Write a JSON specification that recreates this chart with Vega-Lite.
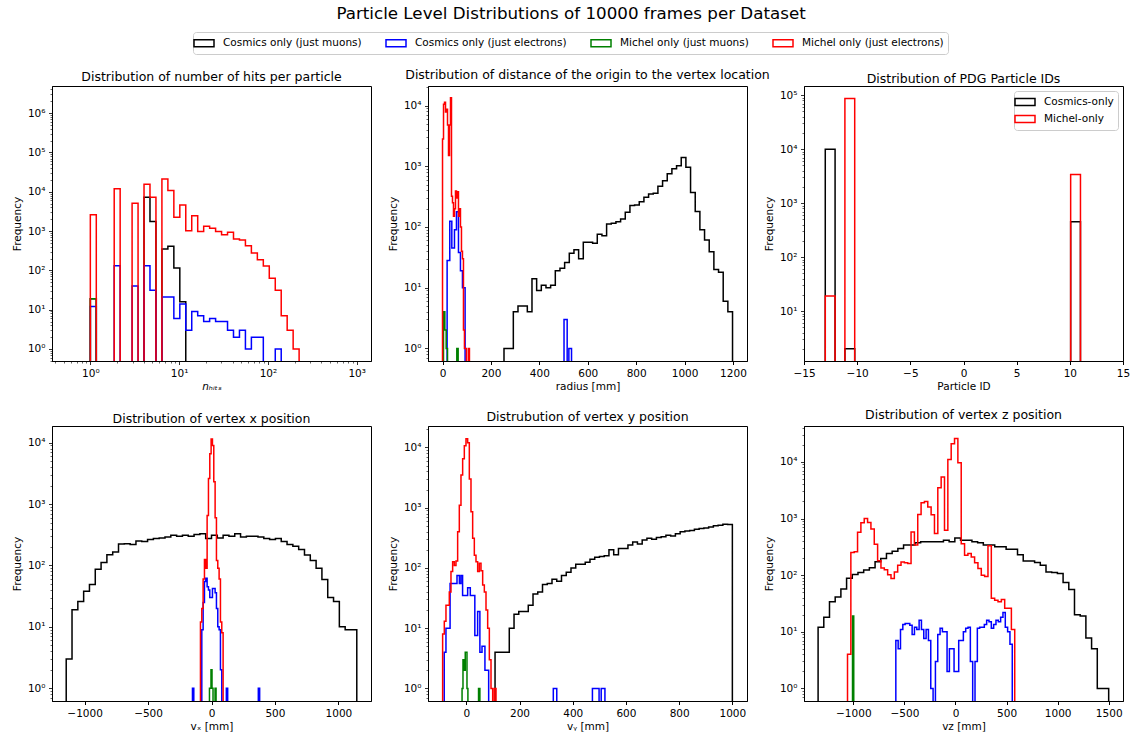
{
"$schema": "https://vega.github.io/schema/vega-lite/v6.json",
"padding": {"left": 11, "top": 6, "right": 5, "bottom": 5},
"title": {"text": "Particle Level Distributions of 10000 frames per Dataset", "fontSize": 16.7, "fontWeight": "normal", "anchor": "middle", "frame": "bounds", "offset": 8.5},
"bounds": "flush",
"columns": 3,
"spacing": {"row": 65, "column": 57},
"resolve": {"scale": {"stroke": "independent"}, "legend": {"stroke": "independent"}},
"datasets": {
"hits": [
{"s":"Cosmics only (just muons)","i":0,"x":1,"y":0.01},
{"s":"Cosmics only (just muons)","i":1,"x":1,"y":19},
{"s":"Cosmics only (just muons)","i":2,"x":1.167,"y":0.01},
{"s":"Cosmics only (just muons)","i":3,"x":4.024,"y":7200},
{"s":"Cosmics only (just muons)","i":4,"x":4.697,"y":1740},
{"s":"Cosmics only (just muons)","i":5,"x":5.483,"y":0.01},
{"s":"Cosmics only (just muons)","i":6,"x":6.4,"y":350},
{"s":"Cosmics only (just muons)","i":7,"x":7.471,"y":410},
{"s":"Cosmics only (just muons)","i":8,"x":8.721,"y":115},
{"s":"Cosmics only (just muons)","i":9,"x":10.18,"y":16},
{"s":"Cosmics only (just muons)","i":10,"x":11.88,"y":0.01},
{"s":"Cosmics only (just electrons)","i":0,"x":1,"y":0.01},
{"s":"Cosmics only (just electrons)","i":1,"x":1,"y":12},
{"s":"Cosmics only (just electrons)","i":2,"x":1.167,"y":0.01},
{"s":"Cosmics only (just electrons)","i":3,"x":1.857,"y":132},
{"s":"Cosmics only (just electrons)","i":4,"x":2.167,"y":0.01},
{"s":"Cosmics only (just electrons)","i":5,"x":2.953,"y":40},
{"s":"Cosmics only (just electrons)","i":6,"x":3.447,"y":0.01},
{"s":"Cosmics only (just electrons)","i":7,"x":4.024,"y":132},
{"s":"Cosmics only (just electrons)","i":8,"x":4.697,"y":31},
{"s":"Cosmics only (just electrons)","i":9,"x":5.483,"y":0.01},
{"s":"Cosmics only (just electrons)","i":10,"x":6.4,"y":21},
{"s":"Cosmics only (just electrons)","i":11,"x":7.471,"y":21},
{"s":"Cosmics only (just electrons)","i":12,"x":8.721,"y":6},
{"s":"Cosmics only (just electrons)","i":13,"x":10.18,"y":14},
{"s":"Cosmics only (just electrons)","i":14,"x":11.88,"y":3},
{"s":"Cosmics only (just electrons)","i":15,"x":13.87,"y":9},
{"s":"Cosmics only (just electrons)","i":16,"x":16.19,"y":7},
{"s":"Cosmics only (just electrons)","i":17,"x":18.9,"y":5},
{"s":"Cosmics only (just electrons)","i":18,"x":22.06,"y":6},
{"s":"Cosmics only (just electrons)","i":19,"x":25.75,"y":5},
{"s":"Cosmics only (just electrons)","i":20,"x":30.06,"y":5},
{"s":"Cosmics only (just electrons)","i":21,"x":35.09,"y":3},
{"s":"Cosmics only (just electrons)","i":22,"x":40.96,"y":2},
{"s":"Cosmics only (just electrons)","i":23,"x":47.81,"y":3},
{"s":"Cosmics only (just electrons)","i":24,"x":55.81,"y":1},
{"s":"Cosmics only (just electrons)","i":25,"x":65.15,"y":2},
{"s":"Cosmics only (just electrons)","i":26,"x":76.05,"y":2},
{"s":"Cosmics only (just electrons)","i":27,"x":88.77,"y":0.01},
{"s":"Cosmics only (just electrons)","i":28,"x":121.0,"y":1},
{"s":"Cosmics only (just electrons)","i":29,"x":141.2,"y":0.01},
{"s":"Michel only (just muons)","i":0,"x":1,"y":0.01},
{"s":"Michel only (just muons)","i":1,"x":1,"y":19},
{"s":"Michel only (just muons)","i":2,"x":1.167,"y":0.01},
{"s":"Michel only (just electrons)","i":0,"x":1,"y":0.01},
{"s":"Michel only (just electrons)","i":1,"x":1,"y":2600},
{"s":"Michel only (just electrons)","i":2,"x":1.167,"y":0.01},
{"s":"Michel only (just electrons)","i":3,"x":1.857,"y":12000},
{"s":"Michel only (just electrons)","i":4,"x":2.167,"y":0.01},
{"s":"Michel only (just electrons)","i":5,"x":2.953,"y":5100},
{"s":"Michel only (just electrons)","i":6,"x":3.447,"y":0.01},
{"s":"Michel only (just electrons)","i":7,"x":4.024,"y":15500},
{"s":"Michel only (just electrons)","i":8,"x":4.697,"y":7200},
{"s":"Michel only (just electrons)","i":9,"x":5.483,"y":0.01},
{"s":"Michel only (just electrons)","i":10,"x":6.4,"y":21000},
{"s":"Michel only (just electrons)","i":11,"x":7.471,"y":10700},
{"s":"Michel only (just electrons)","i":12,"x":8.721,"y":2250},
{"s":"Michel only (just electrons)","i":13,"x":10.18,"y":4600},
{"s":"Michel only (just electrons)","i":14,"x":11.88,"y":1020},
{"s":"Michel only (just electrons)","i":15,"x":13.87,"y":2450},
{"s":"Michel only (just electrons)","i":16,"x":16.19,"y":970},
{"s":"Michel only (just electrons)","i":17,"x":18.9,"y":1330},
{"s":"Michel only (just electrons)","i":18,"x":22.06,"y":1180},
{"s":"Michel only (just electrons)","i":19,"x":25.75,"y":970},
{"s":"Michel only (just electrons)","i":20,"x":30.06,"y":800},
{"s":"Michel only (just electrons)","i":21,"x":35.09,"y":930},
{"s":"Michel only (just electrons)","i":22,"x":40.96,"y":630},
{"s":"Michel only (just electrons)","i":23,"x":47.81,"y":590},
{"s":"Michel only (just electrons)","i":24,"x":55.81,"y":425},
{"s":"Michel only (just electrons)","i":25,"x":65.15,"y":275},
{"s":"Michel only (just electrons)","i":26,"x":76.05,"y":185},
{"s":"Michel only (just electrons)","i":27,"x":88.77,"y":130},
{"s":"Michel only (just electrons)","i":28,"x":103.6,"y":63},
{"s":"Michel only (just electrons)","i":29,"x":121.0,"y":31},
{"s":"Michel only (just electrons)","i":30,"x":141.2,"y":7},
{"s":"Michel only (just electrons)","i":31,"x":164.8,"y":3},
{"s":"Michel only (just electrons)","i":32,"x":192.4,"y":1},
{"s":"Michel only (just electrons)","i":33,"x":224.6,"y":0.01}
],
"radius": [
{"s":"Cosmics only (just muons)","i":0,"x":254,"y":0.01},
{"s":"Cosmics only (just muons)","i":1,"x":254,"y":1},
{"s":"Cosmics only (just muons)","i":2,"x":273.27,"y":1},
{"s":"Cosmics only (just muons)","i":3,"x":292.54,"y":4},
{"s":"Cosmics only (just muons)","i":4,"x":311.81,"y":5},
{"s":"Cosmics only (just muons)","i":5,"x":331.08,"y":5},
{"s":"Cosmics only (just muons)","i":6,"x":350.35,"y":4},
{"s":"Cosmics only (just muons)","i":7,"x":369.62,"y":14},
{"s":"Cosmics only (just muons)","i":8,"x":388.89,"y":9},
{"s":"Cosmics only (just muons)","i":9,"x":408.16,"y":11},
{"s":"Cosmics only (just muons)","i":10,"x":427.43,"y":10},
{"s":"Cosmics only (just muons)","i":11,"x":446.7,"y":11},
{"s":"Cosmics only (just muons)","i":12,"x":465.97,"y":19},
{"s":"Cosmics only (just muons)","i":13,"x":485.24,"y":21},
{"s":"Cosmics only (just muons)","i":14,"x":504.51,"y":26},
{"s":"Cosmics only (just muons)","i":15,"x":523.78,"y":37},
{"s":"Cosmics only (just muons)","i":16,"x":543.05,"y":42},
{"s":"Cosmics only (just muons)","i":17,"x":562.32,"y":30},
{"s":"Cosmics only (just muons)","i":18,"x":581.59,"y":56},
{"s":"Cosmics only (just muons)","i":19,"x":600.86,"y":56},
{"s":"Cosmics only (just muons)","i":20,"x":620.13,"y":54},
{"s":"Cosmics only (just muons)","i":21,"x":639.4,"y":76},
{"s":"Cosmics only (just muons)","i":22,"x":658.67,"y":72},
{"s":"Cosmics only (just muons)","i":23,"x":677.94,"y":112},
{"s":"Cosmics only (just muons)","i":24,"x":697.21,"y":115},
{"s":"Cosmics only (just muons)","i":25,"x":716.48,"y":122},
{"s":"Cosmics only (just muons)","i":26,"x":735.75,"y":135},
{"s":"Cosmics only (just muons)","i":27,"x":755.02,"y":175},
{"s":"Cosmics only (just muons)","i":28,"x":774.29,"y":225},
{"s":"Cosmics only (just muons)","i":29,"x":793.56,"y":230},
{"s":"Cosmics only (just muons)","i":30,"x":812.83,"y":260},
{"s":"Cosmics only (just muons)","i":31,"x":832.1,"y":310},
{"s":"Cosmics only (just muons)","i":32,"x":851.37,"y":350},
{"s":"Cosmics only (just muons)","i":33,"x":870.64,"y":360},
{"s":"Cosmics only (just muons)","i":34,"x":889.91,"y":470},
{"s":"Cosmics only (just muons)","i":35,"x":909.18,"y":580},
{"s":"Cosmics only (just muons)","i":36,"x":928.45,"y":750},
{"s":"Cosmics only (just muons)","i":37,"x":947.72,"y":910},
{"s":"Cosmics only (just muons)","i":38,"x":966.99,"y":1020},
{"s":"Cosmics only (just muons)","i":39,"x":986.26,"y":1400},
{"s":"Cosmics only (just muons)","i":40,"x":1005.53,"y":960},
{"s":"Cosmics only (just muons)","i":41,"x":1024.8,"y":370},
{"s":"Cosmics only (just muons)","i":42,"x":1044.07,"y":180},
{"s":"Cosmics only (just muons)","i":43,"x":1063.34,"y":90},
{"s":"Cosmics only (just muons)","i":44,"x":1082.61,"y":61},
{"s":"Cosmics only (just muons)","i":45,"x":1101.88,"y":39},
{"s":"Cosmics only (just muons)","i":46,"x":1121.15,"y":20},
{"s":"Cosmics only (just muons)","i":47,"x":1140.42,"y":18},
{"s":"Cosmics only (just muons)","i":48,"x":1159.69,"y":6},
{"s":"Cosmics only (just muons)","i":49,"x":1178.96,"y":4},
{"s":"Cosmics only (just muons)","i":50,"x":1198.23,"y":0.01},
{"s":"Cosmics only (just electrons)","i":0,"x":19,"y":0.01},
{"s":"Cosmics only (just electrons)","i":1,"x":19,"y":28},
{"s":"Cosmics only (just electrons)","i":2,"x":30,"y":124},
{"s":"Cosmics only (just electrons)","i":3,"x":38.4,"y":45},
{"s":"Cosmics only (just electrons)","i":4,"x":49.4,"y":90},
{"s":"Cosmics only (just electrons)","i":5,"x":57.6,"y":178},
{"s":"Cosmics only (just electrons)","i":6,"x":65.9,"y":38},
{"s":"Cosmics only (just electrons)","i":7,"x":74.1,"y":19},
{"s":"Cosmics only (just electrons)","i":8,"x":82.4,"y":10},
{"s":"Cosmics only (just electrons)","i":9,"x":93.3,"y":0.01},
{"s":"Cosmics only (just electrons)","i":10,"x":502,"y":3},
{"s":"Cosmics only (just electrons)","i":11,"x":515,"y":0.01},
{"s":"Cosmics only (just electrons)","i":12,"x":522,"y":1},
{"s":"Cosmics only (just electrons)","i":13,"x":533,"y":0.01},
{"s":"Michel only (just muons)","i":0,"x":4,"y":0.01},
{"s":"Michel only (just muons)","i":1,"x":4,"y":4},
{"s":"Michel only (just muons)","i":2,"x":9.6,"y":2},
{"s":"Michel only (just muons)","i":3,"x":15.1,"y":1},
{"s":"Michel only (just muons)","i":4,"x":20.6,"y":0.01},
{"s":"Michel only (just muons)","i":5,"x":59,"y":1},
{"s":"Michel only (just muons)","i":6,"x":64.6,"y":0.01},
{"s":"Michel only (just electrons)","i":0,"x":0,"y":0.01},
{"s":"Michel only (just electrons)","i":1,"x":0,"y":2800},
{"s":"Michel only (just electrons)","i":2,"x":4.12,"y":10500},
{"s":"Michel only (just electrons)","i":3,"x":8.24,"y":11300},
{"s":"Michel only (just electrons)","i":4,"x":12.36,"y":7800},
{"s":"Michel only (just electrons)","i":5,"x":16.48,"y":8700},
{"s":"Michel only (just electrons)","i":6,"x":20.6,"y":4800},
{"s":"Michel only (just electrons)","i":7,"x":24.72,"y":1500},
{"s":"Michel only (just electrons)","i":8,"x":28.84,"y":4800},
{"s":"Michel only (just electrons)","i":9,"x":32.96,"y":13500},
{"s":"Michel only (just electrons)","i":10,"x":37.08,"y":320},
{"s":"Michel only (just electrons)","i":11,"x":41.2,"y":250},
{"s":"Michel only (just electrons)","i":12,"x":45.32,"y":150},
{"s":"Michel only (just electrons)","i":13,"x":49.44,"y":200},
{"s":"Michel only (just electrons)","i":14,"x":53.56,"y":390},
{"s":"Michel only (just electrons)","i":15,"x":57.68,"y":300},
{"s":"Michel only (just electrons)","i":16,"x":61.8,"y":380},
{"s":"Michel only (just electrons)","i":17,"x":65.92,"y":150},
{"s":"Michel only (just electrons)","i":18,"x":70.04,"y":200},
{"s":"Michel only (just electrons)","i":19,"x":74.16,"y":100},
{"s":"Michel only (just electrons)","i":20,"x":78.28,"y":40},
{"s":"Michel only (just electrons)","i":21,"x":82.4,"y":30},
{"s":"Michel only (just electrons)","i":22,"x":86.52,"y":2},
{"s":"Michel only (just electrons)","i":23,"x":90.64,"y":1},
{"s":"Michel only (just electrons)","i":24,"x":94.76,"y":1},
{"s":"Michel only (just electrons)","i":25,"x":98.88,"y":0.01},
{"s":"Michel only (just electrons)","i":26,"x":107.12,"y":1},
{"s":"Michel only (just electrons)","i":27,"x":111.24,"y":0.01}
],
"pdg": [
{"s":"Cosmics-only","i":0,"x":-13,"y":0.01},
{"s":"Cosmics-only","i":1,"x":-13,"y":10000},
{"s":"Cosmics-only","i":2,"x":-12.077,"y":0.01},
{"s":"Cosmics-only","i":3,"x":-11.154,"y":2},
{"s":"Cosmics-only","i":4,"x":-10.231,"y":0.01},
{"s":"Cosmics-only","i":5,"x":10.077,"y":450},
{"s":"Cosmics-only","i":6,"x":11,"y":0.01},
{"s":"Michel-only","i":0,"x":-13,"y":0.01},
{"s":"Michel-only","i":1,"x":-13,"y":19},
{"s":"Michel-only","i":2,"x":-12.077,"y":0.01},
{"s":"Michel-only","i":3,"x":-11.154,"y":87000},
{"s":"Michel-only","i":4,"x":-10.231,"y":0.01},
{"s":"Michel-only","i":5,"x":10.077,"y":3400},
{"s":"Michel-only","i":6,"x":11,"y":0.01}
],
"vx": [
{"s":"Cosmics only (just muons)","i":0,"x":-1145,"y":0.01},
{"s":"Cosmics only (just muons)","i":1,"x":-1145,"y":3},
{"s":"Cosmics only (just muons)","i":2,"x":-1099.2,"y":19},
{"s":"Cosmics only (just muons)","i":3,"x":-1053.4,"y":26},
{"s":"Cosmics only (just muons)","i":4,"x":-1007.6,"y":38},
{"s":"Cosmics only (just muons)","i":5,"x":-961.8,"y":49},
{"s":"Cosmics only (just muons)","i":6,"x":-916,"y":87},
{"s":"Cosmics only (just muons)","i":7,"x":-870.2,"y":112},
{"s":"Cosmics only (just muons)","i":8,"x":-824.4,"y":150},
{"s":"Cosmics only (just muons)","i":9,"x":-778.6,"y":166},
{"s":"Cosmics only (just muons)","i":10,"x":-732.8,"y":223},
{"s":"Cosmics only (just muons)","i":11,"x":-687,"y":225},
{"s":"Cosmics only (just muons)","i":12,"x":-641.2,"y":219},
{"s":"Cosmics only (just muons)","i":13,"x":-595.4,"y":250},
{"s":"Cosmics only (just muons)","i":14,"x":-549.6,"y":245},
{"s":"Cosmics only (just muons)","i":15,"x":-503.8,"y":265},
{"s":"Cosmics only (just muons)","i":16,"x":-458,"y":275},
{"s":"Cosmics only (just muons)","i":17,"x":-412.2,"y":280},
{"s":"Cosmics only (just muons)","i":18,"x":-366.4,"y":290},
{"s":"Cosmics only (just muons)","i":19,"x":-320.6,"y":310},
{"s":"Cosmics only (just muons)","i":20,"x":-274.8,"y":300},
{"s":"Cosmics only (just muons)","i":21,"x":-229,"y":310},
{"s":"Cosmics only (just muons)","i":22,"x":-183.2,"y":300},
{"s":"Cosmics only (just muons)","i":23,"x":-137.4,"y":320},
{"s":"Cosmics only (just muons)","i":24,"x":-91.6,"y":330},
{"s":"Cosmics only (just muons)","i":25,"x":-45.8,"y":275},
{"s":"Cosmics only (just muons)","i":26,"x":0,"y":310},
{"s":"Cosmics only (just muons)","i":27,"x":45.8,"y":280},
{"s":"Cosmics only (just muons)","i":28,"x":91.6,"y":310},
{"s":"Cosmics only (just muons)","i":29,"x":137.4,"y":300},
{"s":"Cosmics only (just muons)","i":30,"x":183.2,"y":330},
{"s":"Cosmics only (just muons)","i":31,"x":229,"y":290},
{"s":"Cosmics only (just muons)","i":32,"x":274.8,"y":300},
{"s":"Cosmics only (just muons)","i":33,"x":320.6,"y":300},
{"s":"Cosmics only (just muons)","i":34,"x":366.4,"y":290},
{"s":"Cosmics only (just muons)","i":35,"x":412.2,"y":275},
{"s":"Cosmics only (just muons)","i":36,"x":458,"y":265},
{"s":"Cosmics only (just muons)","i":37,"x":503.8,"y":275},
{"s":"Cosmics only (just muons)","i":38,"x":549.6,"y":245},
{"s":"Cosmics only (just muons)","i":39,"x":595.4,"y":219},
{"s":"Cosmics only (just muons)","i":40,"x":641.2,"y":206},
{"s":"Cosmics only (just muons)","i":41,"x":687,"y":182},
{"s":"Cosmics only (just muons)","i":42,"x":732.8,"y":148},
{"s":"Cosmics only (just muons)","i":43,"x":778.6,"y":120},
{"s":"Cosmics only (just muons)","i":44,"x":824.4,"y":90},
{"s":"Cosmics only (just muons)","i":45,"x":870.2,"y":59},
{"s":"Cosmics only (just muons)","i":46,"x":916,"y":30},
{"s":"Cosmics only (just muons)","i":47,"x":961.8,"y":26},
{"s":"Cosmics only (just muons)","i":48,"x":1007.6,"y":10},
{"s":"Cosmics only (just muons)","i":49,"x":1053.4,"y":9},
{"s":"Cosmics only (just muons)","i":50,"x":1099.2,"y":9},
{"s":"Cosmics only (just muons)","i":51,"x":1145,"y":0.01},
{"s":"Cosmics only (just electrons)","i":0,"x":-150,"y":0.01},
{"s":"Cosmics only (just electrons)","i":1,"x":-150,"y":1},
{"s":"Cosmics only (just electrons)","i":2,"x":-139.5,"y":0.01},
{"s":"Cosmics only (just electrons)","i":3,"x":-76.5,"y":9},
{"s":"Cosmics only (just electrons)","i":4,"x":-66,"y":25},
{"s":"Cosmics only (just electrons)","i":5,"x":-55.5,"y":55},
{"s":"Cosmics only (just electrons)","i":6,"x":-45,"y":62},
{"s":"Cosmics only (just electrons)","i":7,"x":-34.5,"y":45},
{"s":"Cosmics only (just electrons)","i":8,"x":-24,"y":40},
{"s":"Cosmics only (just electrons)","i":9,"x":-13.5,"y":30},
{"s":"Cosmics only (just electrons)","i":10,"x":-3,"y":30},
{"s":"Cosmics only (just electrons)","i":11,"x":7.5,"y":42},
{"s":"Cosmics only (just electrons)","i":12,"x":18,"y":42},
{"s":"Cosmics only (just electrons)","i":13,"x":28.5,"y":36},
{"s":"Cosmics only (just electrons)","i":14,"x":39,"y":20},
{"s":"Cosmics only (just electrons)","i":15,"x":49.5,"y":10},
{"s":"Cosmics only (just electrons)","i":16,"x":60,"y":9},
{"s":"Cosmics only (just electrons)","i":17,"x":70.5,"y":2},
{"s":"Cosmics only (just electrons)","i":18,"x":81,"y":0.01},
{"s":"Cosmics only (just electrons)","i":19,"x":117,"y":1},
{"s":"Cosmics only (just electrons)","i":20,"x":127.5,"y":0.01},
{"s":"Cosmics only (just electrons)","i":21,"x":369,"y":1},
{"s":"Cosmics only (just electrons)","i":22,"x":379.5,"y":0.01},
{"s":"Michel only (just muons)","i":0,"x":-16,"y":0.01},
{"s":"Michel only (just muons)","i":1,"x":-16,"y":1},
{"s":"Michel only (just muons)","i":2,"x":-4,"y":2},
{"s":"Michel only (just muons)","i":3,"x":4,"y":1},
{"s":"Michel only (just muons)","i":4,"x":12,"y":0.01},
{"s":"Michel only (just muons)","i":5,"x":28,"y":1},
{"s":"Michel only (just muons)","i":6,"x":36,"y":0.01},
{"s":"Michel only (just electrons)","i":0,"x":-87,"y":0.01},
{"s":"Michel only (just electrons)","i":1,"x":-87,"y":12},
{"s":"Michel only (just electrons)","i":2,"x":-76.5,"y":20},
{"s":"Michel only (just electrons)","i":3,"x":-66,"y":60},
{"s":"Michel only (just electrons)","i":4,"x":-55.5,"y":125},
{"s":"Michel only (just electrons)","i":5,"x":-45,"y":90},
{"s":"Michel only (just electrons)","i":6,"x":-34.5,"y":650},
{"s":"Michel only (just electrons)","i":7,"x":-24,"y":2600},
{"s":"Michel only (just electrons)","i":8,"x":-13.5,"y":6600},
{"s":"Michel only (just electrons)","i":9,"x":-3,"y":11500},
{"s":"Michel only (just electrons)","i":10,"x":7.5,"y":9000},
{"s":"Michel only (just electrons)","i":11,"x":18,"y":2300},
{"s":"Michel only (just electrons)","i":12,"x":28.5,"y":600},
{"s":"Michel only (just electrons)","i":13,"x":39,"y":120},
{"s":"Michel only (just electrons)","i":14,"x":49.5,"y":90},
{"s":"Michel only (just electrons)","i":15,"x":60,"y":60},
{"s":"Michel only (just electrons)","i":16,"x":70.5,"y":12},
{"s":"Michel only (just electrons)","i":17,"x":81,"y":8},
{"s":"Michel only (just electrons)","i":18,"x":91.5,"y":0.01}
],
"vy": [
{"s":"Cosmics only (just muons)","i":0,"x":108,"y":0.01},
{"s":"Cosmics only (just muons)","i":1,"x":108,"y":4},
{"s":"Cosmics only (just muons)","i":2,"x":125.84,"y":4},
{"s":"Cosmics only (just muons)","i":3,"x":143.68,"y":4},
{"s":"Cosmics only (just muons)","i":4,"x":161.52,"y":10},
{"s":"Cosmics only (just muons)","i":5,"x":179.36,"y":17},
{"s":"Cosmics only (just muons)","i":6,"x":197.2,"y":19},
{"s":"Cosmics only (just muons)","i":7,"x":215.04,"y":19},
{"s":"Cosmics only (just muons)","i":8,"x":232.88,"y":24},
{"s":"Cosmics only (just muons)","i":9,"x":250.72,"y":37},
{"s":"Cosmics only (just muons)","i":10,"x":268.56,"y":40},
{"s":"Cosmics only (just muons)","i":11,"x":286.4,"y":53},
{"s":"Cosmics only (just muons)","i":12,"x":304.24,"y":55},
{"s":"Cosmics only (just muons)","i":13,"x":322.08,"y":65},
{"s":"Cosmics only (just muons)","i":14,"x":339.92,"y":60},
{"s":"Cosmics only (just muons)","i":15,"x":357.76,"y":75},
{"s":"Cosmics only (just muons)","i":16,"x":375.6,"y":85},
{"s":"Cosmics only (just muons)","i":17,"x":393.44,"y":100},
{"s":"Cosmics only (just muons)","i":18,"x":411.28,"y":115},
{"s":"Cosmics only (just muons)","i":19,"x":429.12,"y":115},
{"s":"Cosmics only (just muons)","i":20,"x":446.96,"y":125},
{"s":"Cosmics only (just muons)","i":21,"x":464.8,"y":140},
{"s":"Cosmics only (just muons)","i":22,"x":482.64,"y":150},
{"s":"Cosmics only (just muons)","i":23,"x":500.48,"y":155},
{"s":"Cosmics only (just muons)","i":24,"x":518.32,"y":160},
{"s":"Cosmics only (just muons)","i":25,"x":536.16,"y":200},
{"s":"Cosmics only (just muons)","i":26,"x":554,"y":165},
{"s":"Cosmics only (just muons)","i":27,"x":571.84,"y":210},
{"s":"Cosmics only (just muons)","i":28,"x":589.68,"y":210},
{"s":"Cosmics only (just muons)","i":29,"x":607.52,"y":240},
{"s":"Cosmics only (just muons)","i":30,"x":625.36,"y":270},
{"s":"Cosmics only (just muons)","i":31,"x":643.2,"y":250},
{"s":"Cosmics only (just muons)","i":32,"x":661.04,"y":290},
{"s":"Cosmics only (just muons)","i":33,"x":678.88,"y":310},
{"s":"Cosmics only (just muons)","i":34,"x":696.72,"y":300},
{"s":"Cosmics only (just muons)","i":35,"x":714.56,"y":320},
{"s":"Cosmics only (just muons)","i":36,"x":732.4,"y":330},
{"s":"Cosmics only (just muons)","i":37,"x":750.24,"y":350},
{"s":"Cosmics only (just muons)","i":38,"x":768.08,"y":340},
{"s":"Cosmics only (just muons)","i":39,"x":785.92,"y":370},
{"s":"Cosmics only (just muons)","i":40,"x":803.76,"y":400},
{"s":"Cosmics only (just muons)","i":41,"x":821.6,"y":410},
{"s":"Cosmics only (just muons)","i":42,"x":839.44,"y":420},
{"s":"Cosmics only (just muons)","i":43,"x":857.28,"y":440},
{"s":"Cosmics only (just muons)","i":44,"x":875.12,"y":450},
{"s":"Cosmics only (just muons)","i":45,"x":892.96,"y":460},
{"s":"Cosmics only (just muons)","i":46,"x":910.8,"y":480},
{"s":"Cosmics only (just muons)","i":47,"x":928.64,"y":500},
{"s":"Cosmics only (just muons)","i":48,"x":946.48,"y":510},
{"s":"Cosmics only (just muons)","i":49,"x":964.32,"y":530},
{"s":"Cosmics only (just muons)","i":50,"x":982.16,"y":525},
{"s":"Cosmics only (just muons)","i":51,"x":1000,"y":0.01},
{"s":"Cosmics only (just electrons)","i":0,"x":-83,"y":0.01},
{"s":"Cosmics only (just electrons)","i":1,"x":-83,"y":4},
{"s":"Cosmics only (just electrons)","i":2,"x":-76.5,"y":10},
{"s":"Cosmics only (just electrons)","i":3,"x":-61,"y":55},
{"s":"Cosmics only (just electrons)","i":4,"x":-48,"y":55},
{"s":"Cosmics only (just electrons)","i":5,"x":-35,"y":75},
{"s":"Cosmics only (just electrons)","i":6,"x":-26,"y":55},
{"s":"Cosmics only (just electrons)","i":7,"x":-20,"y":75},
{"s":"Cosmics only (just electrons)","i":8,"x":-14,"y":35},
{"s":"Cosmics only (just electrons)","i":9,"x":5,"y":47},
{"s":"Cosmics only (just electrons)","i":10,"x":15,"y":35},
{"s":"Cosmics only (just electrons)","i":11,"x":32,"y":7.6},
{"s":"Cosmics only (just electrons)","i":12,"x":42.5,"y":19},
{"s":"Cosmics only (just electrons)","i":13,"x":51,"y":4},
{"s":"Cosmics only (just electrons)","i":14,"x":59,"y":5},
{"s":"Cosmics only (just electrons)","i":15,"x":70,"y":2},
{"s":"Cosmics only (just electrons)","i":16,"x":84,"y":0.01},
{"s":"Cosmics only (just electrons)","i":17,"x":327,"y":1},
{"s":"Cosmics only (just electrons)","i":18,"x":340,"y":0.01},
{"s":"Cosmics only (just electrons)","i":19,"x":474,"y":1},
{"s":"Cosmics only (just electrons)","i":20,"x":499,"y":0.01},
{"s":"Cosmics only (just electrons)","i":21,"x":507,"y":1},
{"s":"Cosmics only (just electrons)","i":22,"x":521,"y":0.01},
{"s":"Michel only (just muons)","i":0,"x":-16,"y":0.01},
{"s":"Michel only (just muons)","i":1,"x":-16,"y":1},
{"s":"Michel only (just muons)","i":2,"x":-12.5,"y":3},
{"s":"Michel only (just muons)","i":3,"x":-8,"y":2},
{"s":"Michel only (just muons)","i":4,"x":-4,"y":4},
{"s":"Michel only (just muons)","i":5,"x":2.5,"y":1},
{"s":"Michel only (just muons)","i":6,"x":6,"y":0.01},
{"s":"Michel only (just muons)","i":7,"x":46,"y":1},
{"s":"Michel only (just muons)","i":8,"x":51,"y":0.01},
{"s":"Michel only (just electrons)","i":0,"x":-89,"y":0.01},
{"s":"Michel only (just electrons)","i":1,"x":-89,"y":8},
{"s":"Michel only (just electrons)","i":2,"x":-82.73,"y":13},
{"s":"Michel only (just electrons)","i":3,"x":-76.46,"y":24},
{"s":"Michel only (just electrons)","i":4,"x":-70.19,"y":24},
{"s":"Michel only (just electrons)","i":5,"x":-63.92,"y":40},
{"s":"Michel only (just electrons)","i":6,"x":-57.65,"y":87},
{"s":"Michel only (just electrons)","i":7,"x":-51.38,"y":127},
{"s":"Michel only (just electrons)","i":8,"x":-45.11,"y":110},
{"s":"Michel only (just electrons)","i":9,"x":-38.84,"y":130},
{"s":"Michel only (just electrons)","i":10,"x":-32.57,"y":400},
{"s":"Michel only (just electrons)","i":11,"x":-26.3,"y":1100},
{"s":"Michel only (just electrons)","i":12,"x":-20.03,"y":3500},
{"s":"Michel only (just electrons)","i":13,"x":-13.76,"y":6500},
{"s":"Michel only (just electrons)","i":14,"x":-7.49,"y":10700},
{"s":"Michel only (just electrons)","i":15,"x":-1.22,"y":14000},
{"s":"Michel only (just electrons)","i":16,"x":5.05,"y":12000},
{"s":"Michel only (just electrons)","i":17,"x":11.32,"y":3000},
{"s":"Michel only (just electrons)","i":18,"x":17.59,"y":860},
{"s":"Michel only (just electrons)","i":19,"x":23.86,"y":310},
{"s":"Michel only (just electrons)","i":20,"x":30.13,"y":162},
{"s":"Michel only (just electrons)","i":21,"x":36.4,"y":127},
{"s":"Michel only (just electrons)","i":22,"x":42.67,"y":87},
{"s":"Michel only (just electrons)","i":23,"x":48.94,"y":120},
{"s":"Michel only (just electrons)","i":24,"x":55.21,"y":90},
{"s":"Michel only (just electrons)","i":25,"x":61.48,"y":52},
{"s":"Michel only (just electrons)","i":26,"x":67.75,"y":40},
{"s":"Michel only (just electrons)","i":27,"x":74.02,"y":20},
{"s":"Michel only (just electrons)","i":28,"x":80.29,"y":10},
{"s":"Michel only (just electrons)","i":29,"x":86.56,"y":3},
{"s":"Michel only (just electrons)","i":30,"x":92.83,"y":1},
{"s":"Michel only (just electrons)","i":31,"x":99.1,"y":0.01},
{"s":"Michel only (just electrons)","i":32,"x":105.37,"y":1},
{"s":"Michel only (just electrons)","i":33,"x":111.64,"y":0.01}
],
"vz": [
{"s":"Cosmics only (just muons)","i":0,"x":-1345,"y":0.01},
{"s":"Cosmics only (just muons)","i":1,"x":-1345,"y":12},
{"s":"Cosmics only (just muons)","i":2,"x":-1289.22,"y":18},
{"s":"Cosmics only (just muons)","i":3,"x":-1233.44,"y":34},
{"s":"Cosmics only (just muons)","i":4,"x":-1177.66,"y":41},
{"s":"Cosmics only (just muons)","i":5,"x":-1121.88,"y":57},
{"s":"Cosmics only (just muons)","i":6,"x":-1066.1,"y":88},
{"s":"Cosmics only (just muons)","i":7,"x":-1010.32,"y":103},
{"s":"Cosmics only (just muons)","i":8,"x":-954.54,"y":111},
{"s":"Cosmics only (just muons)","i":9,"x":-898.76,"y":123},
{"s":"Cosmics only (just muons)","i":10,"x":-842.98,"y":135},
{"s":"Cosmics only (just muons)","i":11,"x":-787.2,"y":172},
{"s":"Cosmics only (just muons)","i":12,"x":-731.42,"y":197},
{"s":"Cosmics only (just muons)","i":13,"x":-675.64,"y":241},
{"s":"Cosmics only (just muons)","i":14,"x":-619.86,"y":265},
{"s":"Cosmics only (just muons)","i":15,"x":-564.08,"y":295},
{"s":"Cosmics only (just muons)","i":16,"x":-508.3,"y":340},
{"s":"Cosmics only (just muons)","i":17,"x":-452.52,"y":340},
{"s":"Cosmics only (just muons)","i":18,"x":-396.74,"y":375},
{"s":"Cosmics only (just muons)","i":19,"x":-340.96,"y":390},
{"s":"Cosmics only (just muons)","i":20,"x":-285.18,"y":390},
{"s":"Cosmics only (just muons)","i":21,"x":-229.4,"y":390},
{"s":"Cosmics only (just muons)","i":22,"x":-173.62,"y":390},
{"s":"Cosmics only (just muons)","i":23,"x":-117.84,"y":415},
{"s":"Cosmics only (just muons)","i":24,"x":-62.06,"y":390},
{"s":"Cosmics only (just muons)","i":25,"x":-6.28,"y":455},
{"s":"Cosmics only (just muons)","i":26,"x":49.5,"y":412},
{"s":"Cosmics only (just muons)","i":27,"x":105.28,"y":415},
{"s":"Cosmics only (just muons)","i":28,"x":161.06,"y":390},
{"s":"Cosmics only (just muons)","i":29,"x":216.84,"y":375},
{"s":"Cosmics only (just muons)","i":30,"x":272.62,"y":340},
{"s":"Cosmics only (just muons)","i":31,"x":328.4,"y":340},
{"s":"Cosmics only (just muons)","i":32,"x":384.18,"y":317},
{"s":"Cosmics only (just muons)","i":33,"x":439.96,"y":317},
{"s":"Cosmics only (just muons)","i":34,"x":495.74,"y":287},
{"s":"Cosmics only (just muons)","i":35,"x":551.52,"y":287},
{"s":"Cosmics only (just muons)","i":36,"x":607.3,"y":230},
{"s":"Cosmics only (just muons)","i":37,"x":663.08,"y":177},
{"s":"Cosmics only (just muons)","i":38,"x":718.86,"y":177},
{"s":"Cosmics only (just muons)","i":39,"x":774.64,"y":167},
{"s":"Cosmics only (just muons)","i":40,"x":830.42,"y":150},
{"s":"Cosmics only (just muons)","i":41,"x":886.2,"y":114},
{"s":"Cosmics only (just muons)","i":42,"x":941.98,"y":111},
{"s":"Cosmics only (just muons)","i":43,"x":997.76,"y":107},
{"s":"Cosmics only (just muons)","i":44,"x":1053.54,"y":74},
{"s":"Cosmics only (just muons)","i":45,"x":1109.32,"y":56},
{"s":"Cosmics only (just muons)","i":46,"x":1165.1,"y":20},
{"s":"Cosmics only (just muons)","i":47,"x":1220.88,"y":19},
{"s":"Cosmics only (just muons)","i":48,"x":1276.66,"y":7.8},
{"s":"Cosmics only (just muons)","i":49,"x":1332.44,"y":5},
{"s":"Cosmics only (just muons)","i":50,"x":1388.22,"y":1},
{"s":"Cosmics only (just muons)","i":51,"x":1444,"y":1},
{"s":"Cosmics only (just muons)","i":52,"x":1499.78,"y":0.01},
{"s":"Cosmics only (just electrons)","i":0,"x":-584,"y":0.01},
{"s":"Cosmics only (just electrons)","i":1,"x":-584,"y":7},
{"s":"Cosmics only (just electrons)","i":2,"x":-561.2,"y":5},
{"s":"Cosmics only (just electrons)","i":3,"x":-538.4,"y":11},
{"s":"Cosmics only (just electrons)","i":4,"x":-515.6,"y":13.5},
{"s":"Cosmics only (just electrons)","i":5,"x":-492.8,"y":14},
{"s":"Cosmics only (just electrons)","i":6,"x":-470,"y":14},
{"s":"Cosmics only (just electrons)","i":7,"x":-447.2,"y":13},
{"s":"Cosmics only (just electrons)","i":8,"x":-424.4,"y":9},
{"s":"Cosmics only (just electrons)","i":9,"x":-401.6,"y":12},
{"s":"Cosmics only (just electrons)","i":10,"x":-378.8,"y":11},
{"s":"Cosmics only (just electrons)","i":11,"x":-356,"y":16},
{"s":"Cosmics only (just electrons)","i":12,"x":-333.2,"y":11},
{"s":"Cosmics only (just electrons)","i":13,"x":-310.4,"y":7.6},
{"s":"Cosmics only (just electrons)","i":14,"x":-287.6,"y":11},
{"s":"Cosmics only (just electrons)","i":15,"x":-264.8,"y":7},
{"s":"Cosmics only (just electrons)","i":16,"x":-242,"y":1},
{"s":"Cosmics only (just electrons)","i":17,"x":-219.2,"y":0.01},
{"s":"Cosmics only (just electrons)","i":18,"x":-196.4,"y":3},
{"s":"Cosmics only (just electrons)","i":19,"x":-173.6,"y":9},
{"s":"Cosmics only (just electrons)","i":20,"x":-150.8,"y":11.5},
{"s":"Cosmics only (just electrons)","i":21,"x":-128,"y":10},
{"s":"Cosmics only (just electrons)","i":22,"x":-105.2,"y":10},
{"s":"Cosmics only (just electrons)","i":23,"x":-82.4,"y":2},
{"s":"Cosmics only (just electrons)","i":24,"x":-59.6,"y":5},
{"s":"Cosmics only (just electrons)","i":25,"x":-36.8,"y":5},
{"s":"Cosmics only (just electrons)","i":26,"x":-14,"y":2},
{"s":"Cosmics only (just electrons)","i":27,"x":8.8,"y":2},
{"s":"Cosmics only (just electrons)","i":28,"x":31.6,"y":7},
{"s":"Cosmics only (just electrons)","i":29,"x":54.4,"y":7},
{"s":"Cosmics only (just electrons)","i":30,"x":77.2,"y":10},
{"s":"Cosmics only (just electrons)","i":31,"x":100,"y":11.5},
{"s":"Cosmics only (just electrons)","i":32,"x":122.8,"y":12},
{"s":"Cosmics only (just electrons)","i":33,"x":145.6,"y":3},
{"s":"Cosmics only (just electrons)","i":34,"x":168.4,"y":0.01},
{"s":"Cosmics only (just electrons)","i":35,"x":191.2,"y":3},
{"s":"Cosmics only (just electrons)","i":36,"x":214,"y":11.5},
{"s":"Cosmics only (just electrons)","i":37,"x":236.8,"y":12},
{"s":"Cosmics only (just electrons)","i":38,"x":259.6,"y":12},
{"s":"Cosmics only (just electrons)","i":39,"x":282.4,"y":13.5},
{"s":"Cosmics only (just electrons)","i":40,"x":305.2,"y":16},
{"s":"Cosmics only (just electrons)","i":41,"x":328,"y":15},
{"s":"Cosmics only (just electrons)","i":42,"x":350.8,"y":11.5},
{"s":"Cosmics only (just electrons)","i":43,"x":373.6,"y":13.5},
{"s":"Cosmics only (just electrons)","i":44,"x":396.4,"y":16},
{"s":"Cosmics only (just electrons)","i":45,"x":419.2,"y":15},
{"s":"Cosmics only (just electrons)","i":46,"x":442,"y":18},
{"s":"Cosmics only (just electrons)","i":47,"x":464.8,"y":22},
{"s":"Cosmics only (just electrons)","i":48,"x":487.6,"y":12},
{"s":"Cosmics only (just electrons)","i":49,"x":510.4,"y":10},
{"s":"Cosmics only (just electrons)","i":50,"x":533.2,"y":6},
{"s":"Cosmics only (just electrons)","i":51,"x":556,"y":0.01},
{"s":"Michel only (just muons)","i":0,"x":-1008,"y":0.01},
{"s":"Michel only (just muons)","i":1,"x":-1008,"y":19},
{"s":"Michel only (just muons)","i":2,"x":-996,"y":0.01},
{"s":"Michel only (just electrons)","i":0,"x":-1057,"y":0.01},
{"s":"Michel only (just electrons)","i":1,"x":-1057,"y":4},
{"s":"Michel only (just electrons)","i":2,"x":-1024.26,"y":250},
{"s":"Michel only (just electrons)","i":3,"x":-991.52,"y":260},
{"s":"Michel only (just electrons)","i":4,"x":-958.78,"y":570},
{"s":"Michel only (just electrons)","i":5,"x":-926.04,"y":840},
{"s":"Michel only (just electrons)","i":6,"x":-893.3,"y":1000},
{"s":"Michel only (just electrons)","i":7,"x":-860.56,"y":850},
{"s":"Michel only (just electrons)","i":8,"x":-827.82,"y":650},
{"s":"Michel only (just electrons)","i":9,"x":-795.08,"y":350},
{"s":"Michel only (just electrons)","i":10,"x":-762.34,"y":180},
{"s":"Michel only (just electrons)","i":11,"x":-729.6,"y":134},
{"s":"Michel only (just electrons)","i":12,"x":-696.86,"y":125},
{"s":"Michel only (just electrons)","i":13,"x":-664.12,"y":102},
{"s":"Michel only (just electrons)","i":14,"x":-631.38,"y":87},
{"s":"Michel only (just electrons)","i":15,"x":-598.64,"y":114},
{"s":"Michel only (just electrons)","i":16,"x":-565.9,"y":150},
{"s":"Michel only (just electrons)","i":17,"x":-533.16,"y":170},
{"s":"Michel only (just electrons)","i":18,"x":-500.42,"y":165},
{"s":"Michel only (just electrons)","i":19,"x":-467.68,"y":160},
{"s":"Michel only (just electrons)","i":20,"x":-434.94,"y":580},
{"s":"Michel only (just electrons)","i":21,"x":-402.2,"y":340},
{"s":"Michel only (just electrons)","i":22,"x":-369.46,"y":1180},
{"s":"Michel only (just electrons)","i":23,"x":-336.72,"y":1900},
{"s":"Michel only (just electrons)","i":24,"x":-303.98,"y":2000},
{"s":"Michel only (just electrons)","i":25,"x":-271.24,"y":1600},
{"s":"Michel only (just electrons)","i":26,"x":-238.5,"y":1170},
{"s":"Michel only (just electrons)","i":27,"x":-205.76,"y":545},
{"s":"Michel only (just electrons)","i":28,"x":-173.02,"y":3500},
{"s":"Michel only (just electrons)","i":29,"x":-140.28,"y":5400},
{"s":"Michel only (just electrons)","i":30,"x":-107.54,"y":620},
{"s":"Michel only (just electrons)","i":31,"x":-74.8,"y":11000},
{"s":"Michel only (just electrons)","i":32,"x":-42.06,"y":21000},
{"s":"Michel only (just electrons)","i":33,"x":-9.32,"y":26000},
{"s":"Michel only (just electrons)","i":34,"x":23.42,"y":9700},
{"s":"Michel only (just electrons)","i":35,"x":56.16,"y":360},
{"s":"Michel only (just electrons)","i":36,"x":88.9,"y":225},
{"s":"Michel only (just electrons)","i":37,"x":121.64,"y":240},
{"s":"Michel only (just electrons)","i":38,"x":154.38,"y":210},
{"s":"Michel only (just electrons)","i":39,"x":187.12,"y":165},
{"s":"Michel only (just electrons)","i":40,"x":219.86,"y":131},
{"s":"Michel only (just electrons)","i":41,"x":252.6,"y":100},
{"s":"Michel only (just electrons)","i":42,"x":285.34,"y":95},
{"s":"Michel only (just electrons)","i":43,"x":318.08,"y":330},
{"s":"Michel only (just electrons)","i":44,"x":350.82,"y":39},
{"s":"Michel only (just electrons)","i":45,"x":383.56,"y":36},
{"s":"Michel only (just electrons)","i":46,"x":416.3,"y":34},
{"s":"Michel only (just electrons)","i":47,"x":449.04,"y":37},
{"s":"Michel only (just electrons)","i":48,"x":481.78,"y":26},
{"s":"Michel only (just electrons)","i":49,"x":514.52,"y":26},
{"s":"Michel only (just electrons)","i":50,"x":547.26,"y":11},
{"s":"Michel only (just electrons)","i":51,"x":580,"y":0.01}
]
},
"concat": [
{
"title": {"text": "Distribution of number of hits per particle"},
"width": 319, "height": 275,
"data": {"name": "hits"},
"mark": {"type": "line", "interpolate": "step-after", "clip": true, "strokeWidth": 1.5},
"encoding": {
"x": {"field": "x", "type": "quantitative", "scale": {"type": "log", "domain": [0.37, 1449], "nice": false},
 "axis": {"title": "nₕᵢₜₛ", "titleFontStyle": "italic", "titlePadding": 3, "values": [0.4,0.5,0.6,0.7,0.8,0.9,1,2,3,4,5,6,7,8,9,10,20,30,40,50,60,70,80,90,100,200,300,400,500,600,700,800,900,1000],
 "labelExpr": "abs(log(datum.value)/LN10-round(log(datum.value)/LN10))<0.000001 ? '10'+['⁰','¹','²','³','⁴','⁵','⁶'][round(log(datum.value)/LN10)] : ''",
 "tickSize": {"condition": {"test": "abs(log(datum.value)/LN10-round(log(datum.value)/LN10))<0.000001", "value": 3.5}, "value": 2},
 "tickWidth": {"condition": {"test": "abs(log(datum.value)/LN10-round(log(datum.value)/LN10))<0.000001", "value": 0.8}, "value": 0.6}}},
"y": {"field": "y", "type": "quantitative", "scale": {"type": "log", "domain": [0.495, 4900000], "nice": false},
 "axis": {"title": "Frequency", "titlePadding": 5, "values": [0.5,0.6,0.7,0.8,0.9,1,2,3,4,5,6,7,8,9,10,20,30,40,50,60,70,80,90,100,200,300,400,500,600,700,800,900,1000,2000,3000,4000,5000,6000,7000,8000,9000,10000,20000,30000,40000,50000,60000,70000,80000,90000,100000,200000,300000,400000,500000,600000,700000,800000,900000,1000000,2000000,3000000,4000000],
 "labelExpr": "abs(log(datum.value)/LN10-round(log(datum.value)/LN10))<0.000001 ? '10'+['⁰','¹','²','³','⁴','⁵','⁶'][round(log(datum.value)/LN10)] : ''",
 "tickSize": {"condition": {"test": "abs(log(datum.value)/LN10-round(log(datum.value)/LN10))<0.000001", "value": 3.5}, "value": 2},
 "tickWidth": {"condition": {"test": "abs(log(datum.value)/LN10-round(log(datum.value)/LN10))<0.000001", "value": 0.8}, "value": 0.6}}},
"color": {"field": "s", "type": "nominal", "scale": {"domain": ["Cosmics only (just muons)", "Cosmics only (just electrons)", "Michel only (just muons)", "Michel only (just electrons)"], "range": ["#000000", "#0000ff", "#008000", "#ff0000"]},
 "legend": {"orient": "none", "legendX": 141, "legendY": -54, "direction": "horizontal", "title": null, "symbolType": "M-1.667,-0.583L1.667,-0.583L1.667,0.583L-1.667,0.583Z", "symbolSize": 144, "symbolStrokeWidth": 1.5, "symbolFillColor": "transparent", "labelFontSize": 10.5, "labelOffset": 12, "columnPadding": 20, "padding": 4, "strokeColor": "#cccccc", "fillColor": "#ffffff", "cornerRadius": 3, "labelLimit": 400}},
"order": {"field": "i", "type": "quantitative"}
}
},
{
"title": {"text": "Distribution of distance of the origin to the vertex location"},
"width": 319, "height": 275,
"data": {"name": "radius"},
"mark": {"type": "line", "interpolate": "step-after", "clip": true, "strokeWidth": 1.5},
"encoding": {
"x": {"field": "x", "type": "quantitative", "scale": {"domain": [-60, 1258], "nice": false, "zero": false},
 "axis": {"title": "radius [mm]", "titlePadding": 3, "values": [0,200,400,600,800,1000,1200], "format": "d", "tickSize": 3.5}},
"y": {"field": "y", "type": "quantitative", "scale": {"type": "log", "domain": [0.62, 21000], "nice": false},
 "axis": {"title": "Frequency", "titlePadding": 5, "values": [0.7,0.8,0.9,1,2,3,4,5,6,7,8,9,10,20,30,40,50,60,70,80,90,100,200,300,400,500,600,700,800,900,1000,2000,3000,4000,5000,6000,7000,8000,9000,10000,20000],
 "labelExpr": "abs(log(datum.value)/LN10-round(log(datum.value)/LN10))<0.000001 ? '10'+['⁰','¹','²','³','⁴','⁵','⁶'][round(log(datum.value)/LN10)] : ''",
 "tickSize": {"condition": {"test": "abs(log(datum.value)/LN10-round(log(datum.value)/LN10))<0.000001", "value": 3.5}, "value": 2},
 "tickWidth": {"condition": {"test": "abs(log(datum.value)/LN10-round(log(datum.value)/LN10))<0.000001", "value": 0.8}, "value": 0.6}}},
"color": {"field": "s", "type": "nominal", "scale": {"domain": ["Cosmics only (just muons)", "Cosmics only (just electrons)", "Michel only (just muons)", "Michel only (just electrons)"], "range": ["#000000", "#0000ff", "#008000", "#ff0000"]},
 "legend": {"orient": "none", "legendX": 141, "legendY": -54, "direction": "horizontal", "title": null, "symbolType": "M-1.667,-0.583L1.667,-0.583L1.667,0.583L-1.667,0.583Z", "symbolSize": 144, "symbolStrokeWidth": 1.5, "symbolFillColor": "transparent", "labelFontSize": 10.5, "labelOffset": 12, "columnPadding": 20, "padding": 4, "strokeColor": "#cccccc", "fillColor": "#ffffff", "cornerRadius": 3, "labelLimit": 400}},
"order": {"field": "i", "type": "quantitative"}
}
},
{
"title": {"text": "Distribution of PDG Particle IDs"},
"width": 319, "height": 275,
"data": {"name": "pdg"},
"mark": {"type": "line", "interpolate": "step-after", "clip": true, "strokeWidth": 1.5},
"encoding": {
"x": {"field": "x", "type": "quantitative", "scale": {"domain": [-15, 15], "nice": false, "zero": false},
 "axis": {"title": "Particle ID", "titlePadding": 3, "values": [-15,-10,-5,0,5,10,15], "format": "d", "tickSize": 3.5}},
"y": {"field": "y", "type": "quantitative", "scale": {"type": "log", "domain": [1.19, 148000], "nice": false},
 "axis": {"title": "Frequency", "titlePadding": 5, "values": [2,3,4,5,6,7,8,9,10,20,30,40,50,60,70,80,90,100,200,300,400,500,600,700,800,900,1000,2000,3000,4000,5000,6000,7000,8000,9000,10000,20000,30000,40000,50000,60000,70000,80000,90000,100000],
 "labelExpr": "abs(log(datum.value)/LN10-round(log(datum.value)/LN10))<0.000001 ? '10'+['⁰','¹','²','³','⁴','⁵','⁶'][round(log(datum.value)/LN10)] : ''",
 "tickSize": {"condition": {"test": "abs(log(datum.value)/LN10-round(log(datum.value)/LN10))<0.000001", "value": 3.5}, "value": 2},
 "tickWidth": {"condition": {"test": "abs(log(datum.value)/LN10-round(log(datum.value)/LN10))<0.000001", "value": 0.8}, "value": 0.6}}},
"stroke": {"field": "s", "type": "nominal", "scale": {"domain": ["Cosmics-only", "Michel-only"], "range": ["#000000", "#ff0000"]},
 "legend": {"orient": "top-right", "offset": 5, "direction": "vertical", "title": null, "symbolType": "M-1.667,-0.583L1.667,-0.583L1.667,0.583L-1.667,0.583Z", "symbolSize": 144, "symbolStrokeWidth": 1.5, "symbolFillColor": "transparent", "labelFontSize": 10.5, "labelOffset": 12, "rowPadding": 3, "padding": 4, "strokeColor": "#cccccc", "fillColor": "#ffffff", "cornerRadius": 3}},
"order": {"field": "i", "type": "quantitative"}
}
},
{
"title": {"text": "Distribution of vertex x position"},
"width": 319, "height": 275,
"data": {"name": "vx"},
"mark": {"type": "line", "interpolate": "step-after", "clip": true, "strokeWidth": 1.5},
"encoding": {
"x": {"field": "x", "type": "quantitative", "scale": {"domain": [-1257, 1257], "nice": false, "zero": false},
 "axis": {"title": "vₓ [mm]", "titlePadding": 3, "values": [-1000,-500,0,500,1000], "format": "d", "tickSize": 3.5}},
"y": {"field": "y", "type": "quantitative", "scale": {"type": "log", "domain": [0.62, 18700], "nice": false},
 "axis": {"title": "Frequency", "titlePadding": 5, "values": [0.7,0.8,0.9,1,2,3,4,5,6,7,8,9,10,20,30,40,50,60,70,80,90,100,200,300,400,500,600,700,800,900,1000,2000,3000,4000,5000,6000,7000,8000,9000,10000],
 "labelExpr": "abs(log(datum.value)/LN10-round(log(datum.value)/LN10))<0.000001 ? '10'+['⁰','¹','²','³','⁴','⁵','⁶'][round(log(datum.value)/LN10)] : ''",
 "tickSize": {"condition": {"test": "abs(log(datum.value)/LN10-round(log(datum.value)/LN10))<0.000001", "value": 3.5}, "value": 2},
 "tickWidth": {"condition": {"test": "abs(log(datum.value)/LN10-round(log(datum.value)/LN10))<0.000001", "value": 0.8}, "value": 0.6}}},
"color": {"field": "s", "type": "nominal", "scale": {"domain": ["Cosmics only (just muons)", "Cosmics only (just electrons)", "Michel only (just muons)", "Michel only (just electrons)"], "range": ["#000000", "#0000ff", "#008000", "#ff0000"]},
 "legend": {"orient": "none", "legendX": 141, "legendY": -54, "direction": "horizontal", "title": null, "symbolType": "M-1.667,-0.583L1.667,-0.583L1.667,0.583L-1.667,0.583Z", "symbolSize": 144, "symbolStrokeWidth": 1.5, "symbolFillColor": "transparent", "labelFontSize": 10.5, "labelOffset": 12, "columnPadding": 20, "padding": 4, "strokeColor": "#cccccc", "fillColor": "#ffffff", "cornerRadius": 3, "labelLimit": 400}},
"order": {"field": "i", "type": "quantitative"}
}
},
{
"title": {"text": "Distrubution of vertex y position"},
"width": 319, "height": 275,
"data": {"name": "vy"},
"mark": {"type": "line", "interpolate": "step-after", "clip": true, "strokeWidth": 1.5},
"encoding": {
"x": {"field": "x", "type": "quantitative", "scale": {"domain": [-144, 1055], "nice": false, "zero": false},
 "axis": {"title": "vᵧ [mm]", "titlePadding": 3, "values": [0,200,400,600,800,1000], "format": "d", "tickSize": 3.5}},
"y": {"field": "y", "type": "quantitative", "scale": {"type": "log", "domain": [0.62, 22700], "nice": false},
 "axis": {"title": "Frequency", "titlePadding": 5, "values": [0.7,0.8,0.9,1,2,3,4,5,6,7,8,9,10,20,30,40,50,60,70,80,90,100,200,300,400,500,600,700,800,900,1000,2000,3000,4000,5000,6000,7000,8000,9000,10000,20000],
 "labelExpr": "abs(log(datum.value)/LN10-round(log(datum.value)/LN10))<0.000001 ? '10'+['⁰','¹','²','³','⁴','⁵','⁶'][round(log(datum.value)/LN10)] : ''",
 "tickSize": {"condition": {"test": "abs(log(datum.value)/LN10-round(log(datum.value)/LN10))<0.000001", "value": 3.5}, "value": 2},
 "tickWidth": {"condition": {"test": "abs(log(datum.value)/LN10-round(log(datum.value)/LN10))<0.000001", "value": 0.8}, "value": 0.6}}},
"color": {"field": "s", "type": "nominal", "scale": {"domain": ["Cosmics only (just muons)", "Cosmics only (just electrons)", "Michel only (just muons)", "Michel only (just electrons)"], "range": ["#000000", "#0000ff", "#008000", "#ff0000"]},
 "legend": {"orient": "none", "legendX": 141, "legendY": -54, "direction": "horizontal", "title": null, "symbolType": "M-1.667,-0.583L1.667,-0.583L1.667,0.583L-1.667,0.583Z", "symbolSize": 144, "symbolStrokeWidth": 1.5, "symbolFillColor": "transparent", "labelFontSize": 10.5, "labelOffset": 12, "columnPadding": 20, "padding": 4, "strokeColor": "#cccccc", "fillColor": "#ffffff", "cornerRadius": 3, "labelLimit": 400}},
"order": {"field": "i", "type": "quantitative"}
}
},
{
"title": {"text": "Distribution of vertex z position"},
"width": 319, "height": 275,
"data": {"name": "vz"},
"mark": {"type": "line", "interpolate": "step-after", "clip": true, "strokeWidth": 1.5},
"encoding": {
"x": {"field": "x", "type": "quantitative", "scale": {"domain": [-1483, 1640], "nice": false, "zero": false},
 "axis": {"title": "vz [mm]", "titlePadding": 3, "values": [-1000,-500,0,500,1000,1500], "format": "d", "tickSize": 3.5}},
"y": {"field": "y", "type": "quantitative", "scale": {"type": "log", "domain": [0.6, 43000], "nice": false},
 "axis": {"title": "Frequency", "titlePadding": 5, "values": [0.7,0.8,0.9,1,2,3,4,5,6,7,8,9,10,20,30,40,50,60,70,80,90,100,200,300,400,500,600,700,800,900,1000,2000,3000,4000,5000,6000,7000,8000,9000,10000,20000,30000,40000],
 "labelExpr": "abs(log(datum.value)/LN10-round(log(datum.value)/LN10))<0.000001 ? '10'+['⁰','¹','²','³','⁴','⁵','⁶'][round(log(datum.value)/LN10)] : ''",
 "tickSize": {"condition": {"test": "abs(log(datum.value)/LN10-round(log(datum.value)/LN10))<0.000001", "value": 3.5}, "value": 2},
 "tickWidth": {"condition": {"test": "abs(log(datum.value)/LN10-round(log(datum.value)/LN10))<0.000001", "value": 0.8}, "value": 0.6}}},
"color": {"field": "s", "type": "nominal", "scale": {"domain": ["Cosmics only (just muons)", "Cosmics only (just electrons)", "Michel only (just muons)", "Michel only (just electrons)"], "range": ["#000000", "#0000ff", "#008000", "#ff0000"]},
 "legend": {"orient": "none", "legendX": 141, "legendY": -54, "direction": "horizontal", "title": null, "symbolType": "M-1.667,-0.583L1.667,-0.583L1.667,0.583L-1.667,0.583Z", "symbolSize": 144, "symbolStrokeWidth": 1.5, "symbolFillColor": "transparent", "labelFontSize": 10.5, "labelOffset": 12, "columnPadding": 20, "padding": 4, "strokeColor": "#cccccc", "fillColor": "#ffffff", "cornerRadius": 3, "labelLimit": 400}},
"order": {"field": "i", "type": "quantitative"}
}
}
],
"config": {
"font": "DejaVu Sans",
"view": {"stroke": "#000000", "strokeWidth": 1},
"axis": {"grid": false, "labelFont": "DejaVu Sans", "titleFont": "DejaVu Sans", "labelFontSize": 10.5, "titleFontSize": 10.5, "titleFontWeight": "normal", "labelColor": "#000000", "titleColor": "#000000", "tickColor": "#000000", "domainColor": "#000000", "domainWidth": 1, "labelPadding": 3.5, "labelFlush": false, "labelOverlap": false, "labelBound": false},
"title": {"font": "DejaVu Sans", "fontSize": 12.5, "fontWeight": "normal", "color": "#000000", "anchor": "middle", "frame": "group", "baseline": "alphabetic", "offset": 1},
"legend": {"labelFont": "DejaVu Sans", "labelColor": "#000000"}
}
}
